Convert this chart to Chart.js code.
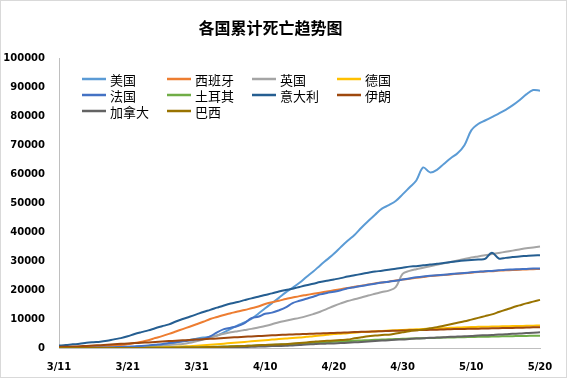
<!DOCTYPE html>
<html>
<head>
<meta charset="utf-8">
<script src="https://cdn.jsdelivr.net/npm/chart.js@4/dist/chart.umd.min.js"></script>
<style>
  body { margin: 0; background: #fff; }
  #wrap { position: relative; width: 567px; height: 378px; box-sizing: border-box; border: 1px solid #d9d9d9; }
  canvas { display: block; }
</style>
</head>
<body>
<div id="wrap"><canvas id="chart" width="565" height="376"></canvas></div>
<script>
const dates = ["3/11","3/12","3/13","3/14","3/15","3/16","3/17","3/18","3/19","3/20",
  "3/21","3/22","3/23","3/24","3/25","3/26","3/27","3/28","3/29","3/30",
  "3/31","4/1","4/2","4/3","4/4","4/5","4/6","4/7","4/8","4/9",
  "4/10","4/11","4/12","4/13","4/14","4/15","4/16","4/17","4/18","4/19",
  "4/20","4/21","4/22","4/23","4/24","4/25","4/26","4/27","4/28","4/29",
  "4/30","5/1","5/2","5/3","5/4","5/5","5/6","5/7","5/8","5/9",
  "5/10","5/11","5/12","5/13","5/14","5/15","5/16","5/17","5/18","5/19","5/20"];

const countries = ["美国", "西班牙", "英国", "德国", "法国", "土耳其", "意大利", "伊朗", "加拿大", "巴西"];
const colors = ["#5B9BD5", "#ED7D31", "#A5A5A5", "#FFC000", "#4472C4", "#70AD47", "#255E91", "#9E480E", "#636363", "#997300"];

const usa = [30,38,45,55,65,90,110,150,200,260,
  320,420,540,700,950,1200,1500,1900,2300,2800,
  3200,3600,3900,4300,5400,6600,7800,8800,10000,11800,
  13700,15500,17300,19200,20800,22500,24500,26400,28500,30500,
  32500,34800,37000,39000,41500,43800,46000,48100,49300,50700,
  53000,55400,57800,62300,60600,61500,63500,65500,67200,70000,
  75100,77300,78500,79700,80900,82200,83700,85500,87500,89000,88800];
const spain = [50,90,130,200,290,340,530,620,830,1040,
  1330,1720,2180,2700,3430,4090,4860,5690,6530,7340,
  8190,9050,10000,10700,11400,12000,12600,13100,13700,14300,
  15200,15800,16300,16900,17400,17900,18300,18700,19100,19500,
  19900,20300,20700,21100,21500,21900,22300,22600,22900,23300,
  23600,23900,24200,24500,24800,25000,25200,25400,25600,25800,
  26000,26200,26400,26500,26700,26800,26900,27000,27100,27200,27300];
const uk = [10,10,20,20,35,55,70,105,145,180,
  230,280,340,430,580,760,1020,1230,1410,1790,
  2350,2920,3600,4300,4900,5400,5800,6200,6600,7100,
  7600,8200,8900,9400,9900,10400,11000,11700,12500,13500,
  14500,15400,16200,16800,17400,18100,18700,19300,19800,21000,
  25600,26600,27200,27700,28200,28700,29200,29700,30200,30700,
  31200,31600,32000,32400,32800,33200,33600,34000,34400,34700,35000];
const germany = [3,3,7,9,11,17,24,28,44,67,
  84,94,123,157,206,267,342,433,533,645,
  775,920,1100,1300,1500,1700,1900,2100,2300,2500,
  2700,2900,3100,3250,3450,3600,3850,4050,4300,4550,
  4800,4950,5100,5300,5500,5600,5750,5900,6000,6100,
  6250,6350,6450,6550,6650,6750,6850,6950,7050,7150,
  7250,7300,7350,7400,7450,7500,7550,7600,7650,7700,7750];
const france = [40,50,60,80,90,130,150,180,240,370,
  450,560,680,860,1100,1330,1700,2000,2300,2600,
  2900,3100,4000,5400,6500,7000,7600,8600,10300,10800,
  11800,12200,13000,14000,15500,16300,17000,17700,18500,19000,
  19400,19900,20600,21000,21400,21800,22200,22600,22900,23200,
  23600,24000,24400,24700,24900,25100,25300,25500,25700,25900,
  26100,26300,26500,26600,26800,27000,27100,27200,27300,27400,27400];
const turkey = [0,0,0,0,0,0,1,2,4,9,
  21,30,37,44,59,75,92,108,131,168,
  214,277,356,425,501,574,649,725,812,908,
  1006,1101,1198,1296,1403,1518,1643,1769,1890,2017,
  2140,2259,2376,2491,2600,2706,2805,2900,2992,3081,
  3174,3258,3336,3397,3461,3520,3584,3641,3689,3739,
  3786,3841,3894,3952,4007,4055,4096,4140,4171,4199,4222];
const italy = [830,1000,1260,1440,1800,2000,2150,2500,2980,3400,
  4030,4830,5480,6080,6820,7500,8170,9130,10000,10780,
  11590,12430,13150,13920,14680,15360,15890,16520,17130,17670,
  18280,18850,19470,20000,20470,21070,21650,22170,22750,23230,
  23660,24110,24650,25090,25550,25970,26380,26640,26980,27360,
  27680,28080,28240,28560,28780,29080,29320,29680,29960,30200,
  30400,30560,30740,32900,30900,31100,31370,31610,31760,31910,32010];
const iran = [354,429,514,611,724,853,988,1135,1284,1433,
  1556,1685,1812,1934,2077,2234,2378,2517,2640,2757,
  2898,3036,3160,3294,3452,3603,3739,3872,3993,4110,
  4232,4357,4474,4585,4683,4777,4869,4958,5031,5118,
  5209,5297,5391,5481,5574,5650,5710,5806,5877,5957,
  6028,6091,6156,6203,6277,6340,6418,6486,6541,6589,
  6640,6685,6733,6783,6854,6902,6937,6988,7057,7119,7183];
const canada = [1,1,1,1,4,4,7,8,10,12,
  13,19,21,25,26,33,39,54,66,80,
  101,110,139,179,218,259,339,375,407,503,
  557,653,714,779,899,1010,1195,1310,1433,1512,
  1580,1690,1800,1950,2100,2250,2400,2550,2700,2850,
  2950,3100,3250,3350,3500,3600,3700,3850,3950,4050,
  4150,4300,4400,4500,4650,4750,4900,5000,5150,5300,5400];
const brazil = [0,0,0,0,0,0,1,3,6,11,
  18,25,34,46,57,77,92,114,136,159,
  201,240,324,359,445,486,564,686,819,950,
  1057,1124,1223,1328,1532,1736,1924,2141,2354,2462,
  2587,2741,2906,3331,3704,4057,4286,4500,4600,5000,
  5400,5800,6100,6400,6800,7200,7700,8200,8700,9200,
  9800,10400,11000,11600,12400,13200,14000,14700,15400,16000,16600];

const series = [usa, spain, uk, germany, france, turkey, italy, iran, canada, brazil];
const yTicks = [0, 10000, 20000, 30000, 40000, 50000, 60000, 70000, 80000, 90000, 100000];

const gridLegend = {
  id: 'gridLegend',
  afterDraw(chart) {
    const ctx = chart.ctx;
    ctx.save();
    ctx.font = '13px "Noto Sans CJK SC"';
    ctx.textBaseline = 'middle';
    ctx.fillStyle = '#000';
    chart.data.datasets.forEach((ds, i) => {
      const col = i % 4, row = Math.floor(i / 4);
      const x = 81 + col * 85, y = 78 + row * 16;
      ctx.strokeStyle = ds.borderColor;
      ctx.lineWidth = 2.5;
      ctx.beginPath();
      ctx.moveTo(x, y);
      ctx.lineTo(x + 24, y);
      ctx.stroke();
      ctx.fillText(ds.label, x + 28, y + 1);
    });
    ctx.restore();
  }
};

new Chart(document.getElementById('chart'), {
  type: 'line',
  data: {
    labels: dates,
    datasets: countries.map((name, i) => ({
      label: name,
      data: series[i],
      borderColor: colors[i],
      backgroundColor: colors[i],
      borderWidth: 2,
      pointRadius: 0,
      tension: 0.35,
      order: -i
    }))
  },
  options: {
    responsive: false,
    animation: false,
    events: [],
    layout: { padding: { left: 0, right: 26, top: 0, bottom: 4 } },
    plugins: {
      legend: { display: false },
      tooltip: { enabled: false },
      title: {
        display: true,
        text: '各国累计死亡趋势图',
        color: '#000',
        font: { family: '"Noto Sans CJK SC"', size: 16, weight: 'bold' },
        padding: { top: 17, bottom: 21 }
      }
    },
    scales: {
      x: {
        afterFit: (scale) => { scale.height = 25; },
        grid: { display: false },
        border: { display: true, color: '#bfbfbf' },
        ticks: {
          autoSkip: false,
          maxRotation: 0,
          padding: 5,
          color: '#000',
          font: { family: '"DejaVu Sans"', size: 10, weight: 'bold' },
          callback: (v, i) => (i % 10 === 0 ? dates[i] : '')
        }
      },
      y: {
        min: 0,
        max: 100000,
        afterBuildTicks: (scale) => { scale.ticks = yTicks.map(v => ({ value: v })); },
        afterFit: (scale) => { scale.width = 58; },
        grid: { display: false },
        border: { display: true, color: '#bfbfbf' },
        ticks: {
          padding: 6,
          color: '#000',
          font: { family: '"DejaVu Sans"', size: 10, weight: 'bold' },
          callback: (v) => String(v)
        }
      }
    }
  },
  plugins: [gridLegend]
});
</script>
</body>
</html>
